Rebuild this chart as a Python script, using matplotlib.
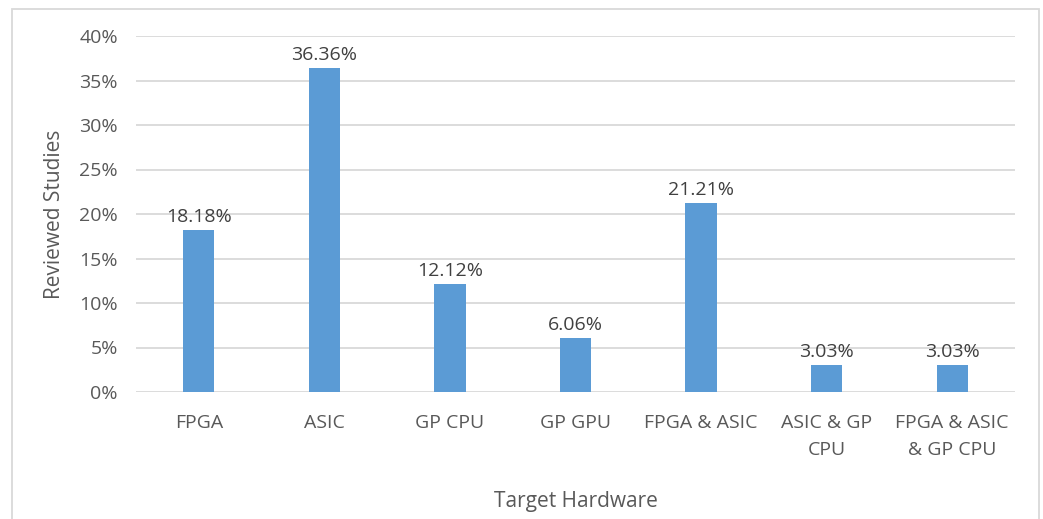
import matplotlib.pyplot as plt
from matplotlib.patches import Rectangle
from matplotlib.ticker import FuncFormatter

# Share of reviewed studies per target hardware
categories = ["FPGA", "ASIC", "GP CPU", "GP GPU", "FPGA & ASIC",
              "ASIC & GP\nCPU", "FPGA & ASIC\n& GP CPU"]
shares = [18.18, 36.36, 12.12, 6.06, 21.21, 3.03, 3.03]

plt.rcParams['font.family'] = ['Open Sans', 'DejaVu Sans']

W, H = 1043, 519
fig = plt.figure(figsize=(W / 100, H / 100), dpi=100)

# axes box in pixels: left 136, right 1015, top 36, bottom 392
l, r, t, b = 136, 1015, 36, 392
ax = fig.add_axes([l / W, 1 - b / H, (r - l) / W, (b - t) / H])

x = range(len(categories))
ax.bar(x, shares, width=0.25, color='#5B9BD5', zorder=3)

for xi, v in zip(x, shares):
    ax.text(xi, v + 0.5, f"{v:.2f}%", ha='center', va='bottom',
            fontsize=14, color='#404040')

ax.set_xlim(-0.5, len(categories) - 0.5)
ax.set_ylim(0, 40)
ax.set_yticks(range(0, 41, 5))
ax.yaxis.set_major_formatter(FuncFormatter(lambda v, p: f"{v:.0f}%"))
ax.set_xticks(list(x))
ax.set_xticklabels(categories, linespacing=1.6)

ax.grid(axis='y', color='#D9D9D9', linewidth=1.3, zorder=0)
for s in ax.spines.values():
    s.set_visible(False)
ax.tick_params(axis='both', length=0, labelsize=14, colors='#595959')
ax.tick_params(axis='x', pad=16)
ax.tick_params(axis='y', pad=13)

ax.set_xlabel("Target Hardware", fontsize=15, color='#595959', labelpad=23)
ax.set_ylabel("Reviewed Studies", fontsize=15, color='#595959', labelpad=10)

# chart area border
fig.patches.append(Rectangle((12 / W, -0.05), (1039 - 12) / W, 1.05 - 9 / H,
                             transform=fig.transFigure, fill=False,
                             edgecolor='#D9D9D9', linewidth=1.3))

fig.savefig("out.png", dpi=100)
